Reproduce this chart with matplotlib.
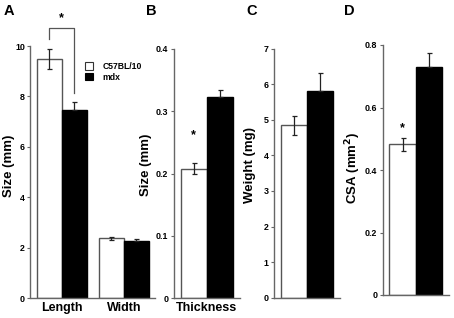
import numpy as np
import matplotlib
matplotlib.use("Agg")
import matplotlib.pyplot as plt
from matplotlib.patches import Patch

plt.rcParams['font.family'] = ['Liberation Sans', 'DejaVu Sans']
plt.rcParams['font.weight'] = 'bold'

groups = ['C57BL/10', 'mdx']

# panel A: length and width (mm)
a_cats = ['Length', 'Width']
a_wt = [9.48, 2.37]
a_wt_err = [0.40, 0.07]
a_mdx = [7.45, 2.27]
a_mdx_err = [0.33, 0.07]

# panel B: thickness (mm)
b_wt, b_wt_err = 0.208, 0.009
b_mdx, b_mdx_err = 0.323, 0.011

# panel C: weight (mg)
c_wt, c_wt_err = 4.85, 0.27
c_mdx, c_mdx_err = 5.82, 0.49

# panel D: CSA (mm^2)
d_wt, d_wt_err = 0.482, 0.022
d_mdx, d_mdx_err = 0.731, 0.045

W, H = 454, 318
fig = plt.figure(figsize=(W / 100, H / 100), dpi=100)


def px_axes(x0, x1, ytop, ybot):
    return fig.add_axes([x0 / W, 1 - ybot / H, (x1 - x0) / W, (ybot - ytop) / H])


edge = '#555555'
spine = '#666666'
bw = 0.4


def style(ax, ymax, yticks, fmt):
    for s in ['top', 'right']:
        ax.spines[s].set_visible(False)
    for s in ['left', 'bottom']:
        ax.spines[s].set_color(spine)
        ax.spines[s].set_linewidth(1.0)
    ax.set_ylim(0, ymax)
    ax.set_yticks(yticks)
    ax.set_yticklabels([fmt(v) for v in yticks], fontsize=6.4, fontweight='bold')
    ax.tick_params(axis='y', length=2.5, width=0.8, color=spine, pad=1.5)
    ax.tick_params(axis='x', length=0, pad=3)


def ylab(xp, yp, s):
    fig.text(xp / W, 1 - yp / H, s, rotation=90, ha='center', va='center',
             fontsize=9.5, fontweight='bold')


def bars(ax, x, wt, wt_err, mdx, mdx_err):
    x = np.atleast_1d(np.asarray(x, dtype=float))
    ax.bar(x - bw / 2, wt, bw, color='white', edgecolor=edge, linewidth=1.0, zorder=2)
    ax.bar(x + bw / 2, mdx, bw, color='black', edgecolor='black', linewidth=1.0, zorder=2)
    ax.errorbar(x - bw / 2, wt, yerr=wt_err, fmt='none', ecolor='#222222',
                elinewidth=0.9, capsize=1.8, capthick=0.9, zorder=3)
    ax.errorbar(x + bw / 2, mdx, yerr=[np.zeros_like(np.atleast_1d(mdx_err)), mdx_err],
                fmt='none', ecolor='#222222', elinewidth=0.9, capsize=1.8, capthick=0.9, zorder=3)


# ---- A
axA = px_axes(30.5, 155, 46, 298)
bars(axA, [0, 1], a_wt, a_wt_err, a_mdx, a_mdx_err)
axA.set_xlim(-0.5, 1.5)
axA.set_xticks([0, 1])
axA.set_xticklabels(a_cats, fontsize=9, fontweight='bold')
style(axA, 10, [0, 2, 4, 6, 8, 10], lambda v: '%d' % v)
ylab(9, 166, 'Size (mm)')
axA.plot([-0.2, -0.2, 0.2, 0.2], [10.28, 10.7, 10.7, 8.13], color=edge,
         linewidth=0.9, clip_on=False)
axA.text(0, 10.85, '*', ha='center', va='bottom', fontsize=9, fontweight='bold')
handles = [Patch(facecolor='white', edgecolor='#333333', linewidth=0.8),
           Patch(facecolor='black', edgecolor='black', linewidth=0.8)]
axA.legend(handles, groups, loc='upper left', bbox_to_anchor=(84 / W, 1 - 61 / H),
           bbox_transform=fig.transFigure, frameon=False, fontsize=6.2,
           handlelength=0.95, handleheight=0.95, handletextpad=1.1,
           labelspacing=0.2, borderpad=0.1, borderaxespad=0)

# ---- B
axB = px_axes(174, 240, 49, 298)
bars(axB, [0], [b_wt], [b_wt_err], [b_mdx], [b_mdx_err])
axB.set_xlim(-0.5, 0.5)
axB.set_xticks([0])
axB.set_xticklabels(['Thickness'], fontsize=9, fontweight='bold')
style(axB, 0.4, [0, 0.1, 0.2, 0.3, 0.4], lambda v: '0' if v == 0 else '%.1f' % v)
ylab(146, 165, 'Size (mm)')
axB.text(-bw / 2, b_wt + b_wt_err + 0.035, '*', ha='center', va='bottom',
         fontsize=9, fontweight='bold')

# ---- C
axC = px_axes(274, 340, 48.7, 297.7)
bars(axC, [0], [c_wt], [c_wt_err], [c_mdx], [c_mdx_err])
axC.set_xlim(-0.5, 0.5)
axC.set_xticks([])
style(axC, 7, [0, 1, 2, 3, 4, 5, 6, 7], lambda v: '%d' % v)
ylab(250.5, 165, 'Weight (mg)')

# ---- D
axD = px_axes(382.7, 449, 45, 295)
bars(axD, [0], [d_wt], [d_wt_err], [d_mdx], [d_mdx_err])
axD.set_xlim(-0.5, 0.5)
axD.set_xticks([])
style(axD, 0.8, [0, 0.2, 0.4, 0.6, 0.8], lambda v: '0' if v == 0 else '%.1f' % v)
ylab(353, 168, 'CSA (mm$^\\mathbf{2}$)')
axD.text(-bw / 2, d_wt + d_wt_err + 0.01, '*', ha='center', va='bottom',
         fontsize=9, fontweight='bold')

for lab, xp in zip(['A', 'B', 'C', 'D'], [4, 146, 246, 344]):
    fig.text(xp / W, 1 - 4 / H, lab, ha='left', va='top', fontsize=10.5, fontweight='bold')

fig.savefig('out.png', dpi=100)
